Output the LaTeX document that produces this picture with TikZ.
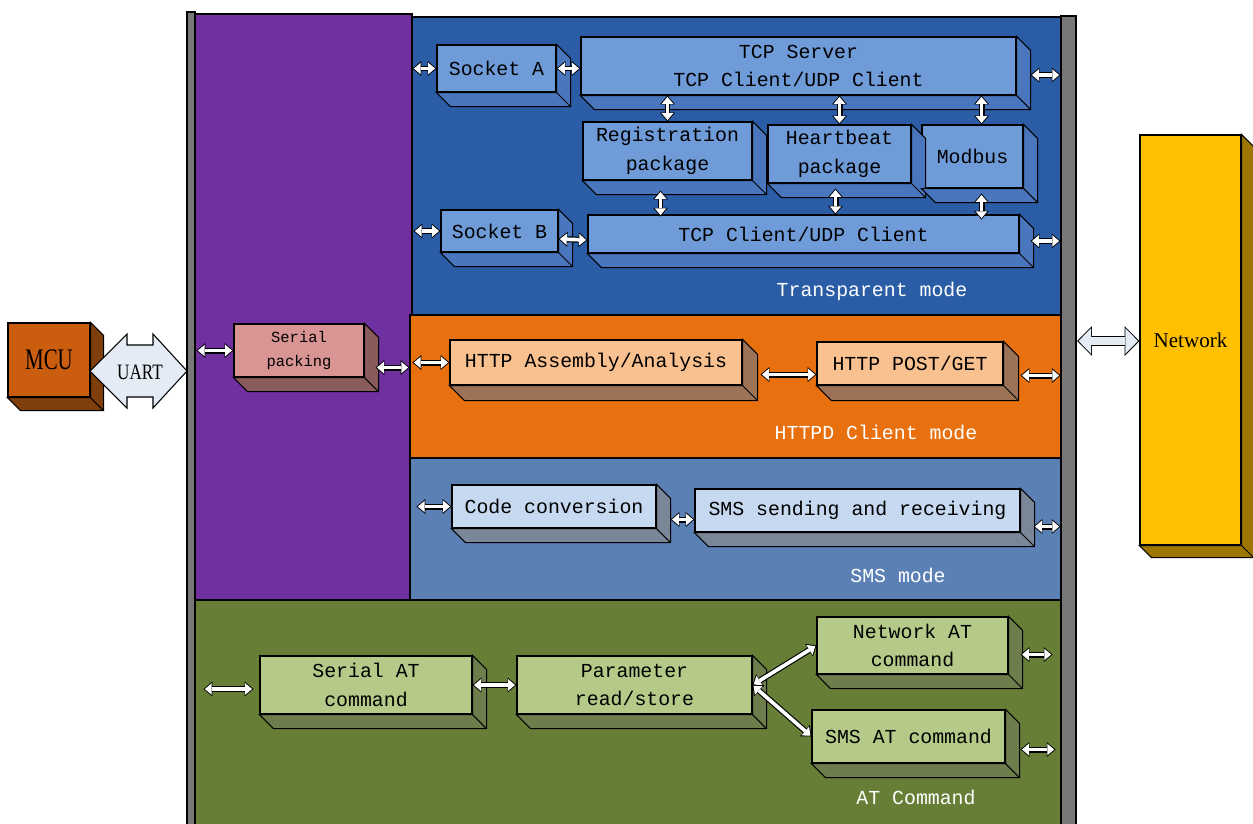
\documentclass[tikz,border=0pt]{standalone}
\usepackage{fontspec}
\setmainfont{Liberation Mono}
\newfontfamily\narrowfont{Liberation Serif}
\usepackage{graphicx}
\usepackage{tikz}
\usetikzlibrary{calc}
\usetikzlibrary{fit}
\usetikzlibrary{arrows.meta}

\definecolor{bargray}{HTML}{787878}
\definecolor{purpreg}{HTML}{7030A0}
\definecolor{bluereg}{HTML}{2A5DA6}
\definecolor{blueface}{HTML}{6F9BD9}
\definecolor{blueside}{HTML}{4A76BE}
\definecolor{orangereg}{HTML}{E8700E}
\definecolor{peachface}{HTML}{F9C18F}
\definecolor{peachside}{HTML}{9C7357}
\definecolor{smsreg}{HTML}{5A80B4}
\definecolor{smsface}{HTML}{C6D9F1}
\definecolor{smsside}{HTML}{7A8799}
\definecolor{greenreg}{HTML}{677E36}
\definecolor{greenface}{HTML}{B5CA88}
\definecolor{greenside}{HTML}{6E7D4C}
\definecolor{netface}{HTML}{FFC000}
\definecolor{netside}{HTML}{9C7600}
\definecolor{mcuface}{HTML}{CB5D0E}
\definecolor{mcuside}{HTML}{7F3F0A}
\definecolor{pinkface}{HTML}{D99594}
\definecolor{pinkside}{HTML}{895C5B}
\definecolor{arrfill}{HTML}{E4EBF5}

\newcommand{\narrowtext}[2]{\scalebox{#1}[1]{\narrowfont #2}}

\begin{document}
\begin{tikzpicture}[x=0.02cm,y=-0.02cm]
\tikzstyle{every node}=[font=\fontsize{11.3}{16.4}\selectfont]
\tikzstyle{every label}=[align=center,inner sep=0pt]
\tikzstyle{blk}=[draw=black,line width=0.6pt,inner sep=0pt]
\tikzstyle{reg}=[draw=black,line width=0.6pt]
\tikzstyle{modelabel}=[text=white]
\tikzstyle{biarr}=[draw=black,line width=3.4pt,{Triangle[length=5pt,width=8.5pt,line width=0pt]}-{Triangle[length=5pt,width=8.5pt,line width=0pt]},
  postaction={draw=white,line width=2.1pt,{Triangle[length=3.9pt,width=6.6pt,line width=0pt]}-{Triangle[length=3.9pt,width=6.6pt,line width=0pt]},shorten <=0.8pt,shorten >=0.8pt}]
\tikzstyle{bigarr}=[draw=black,line width=5.4pt,{Triangle[length=8.5pt,width=17pt,line width=0pt]}-{Triangle[length=8.5pt,width=17pt,line width=0pt]},
  postaction={draw=arrfill,line width=4.2pt,{Triangle[length=7.1pt,width=14.6pt,line width=0pt]}-{Triangle[length=7.1pt,width=14.6pt,line width=0pt]},shorten <=0.9pt,shorten >=0.9pt}]

\useasboundingbox (0,0) rectangle (1253,823);

% bars and mode regions
\filldraw[reg,fill=bargray] (187,12) rectangle (195,830);
\filldraw[reg,fill=purpreg] (195,14) rectangle (412,600);
\filldraw[reg,fill=bluereg] (412,17) rectangle (1061,315);
\filldraw[reg,fill=orangereg] (410,315) rectangle (1061,458);
\filldraw[reg,fill=smsreg] (410,458) rectangle (1061,600);
\filldraw[reg,fill=greenreg] (195,600) rectangle (1061,830);
\filldraw[reg,fill=bargray] (1061,16) rectangle (1076,830);

\node[modelabel] (lbltr) at (872,291) {Transparent mode};
\node[modelabel] (lblhttp) at (876,432) {HTTPD Client mode};
\node[modelabel] (lblsms) at (898,575) {SMS mode};
\node[modelabel] (lblat) at (916,797) {AT Command};

% boxes
\node[blk,fill=mcuface,fit={(8,323) (90,397)},label={[font=\fontsize{17}{17}\selectfont]center:\narrowtext{0.7}{MCU}}] (mcu) {};
\node[blk,fill=netface,fit={(1140,135) (1241,545)},label={[font=\fontsize{12}{12}\selectfont\narrowfont]center:Network}] (net) {};
\node[blk,fill=pinkface,fit={(234,324) (364,377)},label={[font=\fontsize{8.8}{13.6}\selectfont]center:Serial\\packing}] (sp) {};

\node[blk,fill=blueface,fit={(437,45) (556,92)},label=center:{Socket A}] (sockA) {};
\node[blk,fill=blueface,fit={(581,37) (1016,95)},label=center:{TCP Server\\TCP Client/UDP Client}] (srv) {};
\node[blk,fill=blueface,fit={(583,122) (752,180)},label=center:{Registration\\package}] (reg) {};
\node[blk,fill=blueface,fit={(768,125) (911,183)},label=center:{Heartbeat\\package}] (hb) {};
\node[blk,fill=blueface,fit={(922,125) (1023,188)},label=center:{Modbus}] (mod) {};
\node[blk,fill=blueface,fit={(441,210) (558,252)},label=center:{Socket B}] (sockB) {};
\node[blk,fill=blueface,fit={(588,215) (1019,253)},label=center:{TCP Client/UDP Client}] (tcpc) {};

\node[blk,fill=peachface,fit={(450,340) (742,385)},label=center:{HTTP Assembly/Analysis}] (hass) {};
\node[blk,fill=peachface,fit={(817,342) (1003,385)},label=center:{HTTP POST/GET}] (post) {};

\node[blk,fill=smsface,fit={(452,485) (656,528)},label=center:{Code conversion}] (cc) {};
\node[blk,fill=smsface,fit={(695,489) (1020,532)},label=center:{SMS sending and receiving}] (smsr) {};

\node[blk,fill=greenface,fit={(260,656) (472,714)},label=center:{Serial AT\\command}] (serat) {};
\node[blk,fill=greenface,fit={(517,656) (752,714)},label=center:{Parameter\\read/store}] (param) {};
\node[blk,fill=greenface,fit={(817,617) (1008,674)},label=center:{Network AT\\command}] (netat) {};
\node[blk,fill=greenface,fit={(812,710) (1005,763)},label=center:{SMS AT command}] (smsat) {};

% extruded sides
\foreach \n/\c/\d in {mcu/mcuside/13,net/netside/12,sp/pinkside/14,sockA/blueside/14,srv/blueside/14,
  reg/blueside/14,hb/blueside/14,mod/blueside/14,sockB/blueside/14,tcpc/blueside/14,
  hass/peachside/15,post/peachside/15,cc/smsside/14,smsr/smsside/14,
  serat/greenside/14,param/greenside/14,netat/greenside/14,smsat/greenside/14}{
  \filldraw[fill=\c,line width=0.6pt] (\n.north east) -- ++(\d,\d) -- ($(\n.south east)+(\d,\d)$) -- ($(\n.south west)+(\d,\d)$) -- (\n.south west) -- (\n.south east) -- cycle;
  \draw[line width=0.6pt] (\n.south east) -- ++(\d,\d);
}

% UART and network links
\filldraw[draw=black,line width=0.6pt,fill=arrfill] (90,371) -- (127,334) -- (127,345) -- (153,345) -- (153,334) -- (187,371)
  -- (153,408) -- (153,397) -- (127,397) -- (127,408) -- cycle;
\node[font=\fontsize{12.5}{12.5}\selectfont] (uart) at (140,372) {\narrowtext{0.78}{UART}};
\coordinate (rbar) at (1077,341);
\draw[bigarr] (rbar) -- (rbar -| net.west);

% transparent mode
\draw[biarr] (sockA.west) -- ++(-24,0);
\draw[biarr] (sockA.east) -- (sockA.east -| srv.west);
\draw[biarr] ($(srv.east)+(14,9)$) -- ++(30,0);
\draw[biarr] (srv.south -| reg.north) -- (reg.north);
\draw[biarr] (srv.south -| hb.north) -- (hb.north);
\draw[biarr] ($(srv.south -| mod.north)+(9,0)$) -- ($(mod.north)+(9,0)$);
\draw[biarr] ($(reg.south)+(-7,10)$) -- ++(0,26);
\draw[biarr] ($(hb.south)+(-4,5)$) -- ++(0,26);
\draw[biarr] ($(mod.south)+(9,5)$) -- ++(0,26);
\draw[biarr] (sockB.west) -- ++(-27,0);
\draw[biarr] ($(sockB.east)+(0,8)$) -- ($(tcpc.west)+(0,6)$);
\draw[biarr] ($(tcpc.east)+(11,7)$) -- ++(30,0);

% serial packing and HTTPD
\draw[biarr] (sp.west) -- ++(-37,0);
\draw[biarr] ($(sp.east)+(11,17)$) -- ++(34,0);
\draw[biarr] (hass.west) -- ++(-37,0);
\draw[biarr] ($(hass.east)+(18,12)$) -- ($(post.west)+(0,11)$);
\draw[biarr] ($(post.east)+(17,12)$) -- ++(40,0);

% SMS
\draw[biarr] (cc.west) -- ++(-35,0);
\draw[biarr] ($(cc.east)+(14,13)$) -- ($(smsr.west)+(0,9)$);
\draw[biarr] ($(smsr.east)+(13,16)$) -- ++(27,0);

% AT command
\draw[biarr] ($(serat.west)+(-6,4)$) -- ++(-50,0);
\draw[biarr] (serat.east) -- (param.west);
\draw[biarr] (param.east) -- (netat.west);
\draw[biarr] (param.east) -- (smsat.west);
\draw[biarr] ($(netat.east)+(12,9)$) -- ++(32,0);
\draw[biarr] ($(smsat.east)+(15,13)$) -- ++(35,0);

\end{tikzpicture}
\end{document}
